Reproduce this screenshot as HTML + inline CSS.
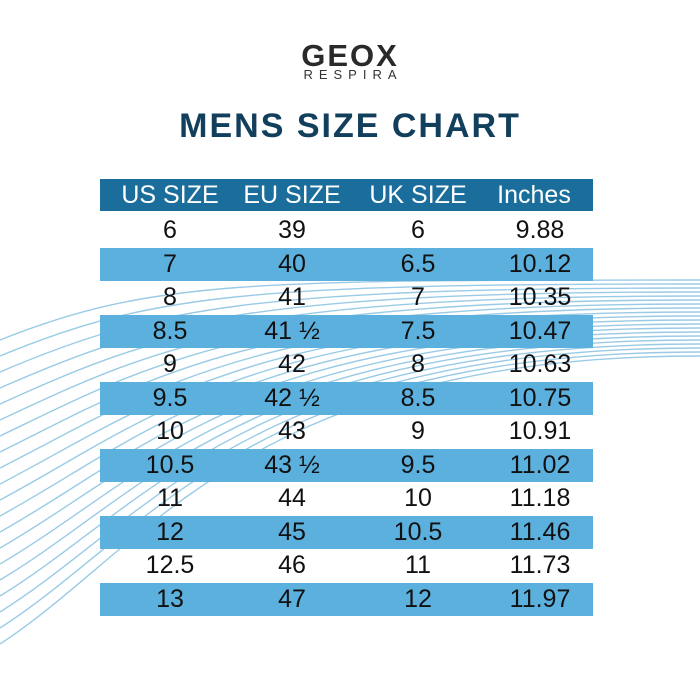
<!DOCTYPE html>
<html><head><style>
body{margin:0;width:700px;height:700px;background:#fff;position:relative;overflow:hidden;font-family:"Liberation Sans",sans-serif}
.abs{position:absolute}
.row{position:absolute;left:100px;width:493px;height:33px;display:flex;align-items:center;font-size:25px;color:#111}
.row span{position:absolute;transform:translateX(-50%);white-space:nowrap}
.b{background:#5cb0de}
.h{background:#1b6e9c;color:#fff;height:32px}
</style></head><body>
<svg class="abs" style="left:0;top:0" width="700" height="700">
<g fill="none" stroke="#9acbe6" stroke-width="1.4">
<path d="M0 340 C150 280 250 280 700 280"/>
<path d="M0 356 C150 294 250 284 700 284"/>
<path d="M0 372 C150 308 250 288 700 288"/>
<path d="M0 388 C150 322 250 292 700 292"/>
<path d="M0 404 C150 336 250 296 700 296"/>
<path d="M0 420 C150 350 250 300 700 300"/>
<path d="M0 436 C150 364 250 304 700 304"/>
<path d="M0 452 C150 378 250 308 700 308"/>
<path d="M0 468 C150 392 250 312 700 312"/>
<path d="M0 484 C150 406 250 316 700 316"/>
<path d="M0 500 C150 420 250 320 700 320"/>
<path d="M0 516 C150 434 250 324 700 324"/>
<path d="M0 532 C150 448 250 328 700 328"/>
<path d="M0 548 C150 462 250 332 700 332"/>
<path d="M0 564 C150 476 250 336 700 336"/>
<path d="M0 580 C150 490 250 340 700 340"/>
<path d="M0 596 C150 504 250 344 700 344"/>
<path d="M0 612 C150 518 250 348 700 348"/>
<path d="M0 628 C150 532 250 352 700 352"/>
<path d="M0 644 C150 546 250 356 700 356"/>
</g></svg>
<div class="abs" style="left:0;width:700px;top:38px;text-align:center;font-size:31px;font-weight:bold;color:#2a2a2a;letter-spacing:2px">GEOX</div>
<div class="abs" style="left:0;width:700px;top:67px;text-align:center;font-size:13px;color:#333;letter-spacing:6px;padding-left:6px;box-sizing:border-box">RESPIRA</div>
<div class="abs" style="left:0;width:700px;top:107px;text-align:center;font-size:34px;font-weight:bold;color:#113f5c;letter-spacing:2px">MENS SIZE CHART</div>
<div class="row h" style="top:179px"><span style="left:70px">US SIZE</span><span style="left:192px">EU SIZE</span><span style="left:318px">UK SIZE</span><span style="left:434px">Inches</span></div>
<div class="row" style="top:214px"><span style="left:70px">6</span><span style="left:192px">39</span><span style="left:318px">6</span><span style="left:440px">9.88</span></div>
<div class="row b" style="top:248px"><span style="left:70px">7</span><span style="left:192px">40</span><span style="left:318px">6.5</span><span style="left:440px">10.12</span></div>
<div class="row" style="top:281px"><span style="left:70px">8</span><span style="left:192px">41</span><span style="left:318px">7</span><span style="left:440px">10.35</span></div>
<div class="row b" style="top:315px"><span style="left:70px">8.5</span><span style="left:192px">41 ½</span><span style="left:318px">7.5</span><span style="left:440px">10.47</span></div>
<div class="row" style="top:348px"><span style="left:70px">9</span><span style="left:192px">42</span><span style="left:318px">8</span><span style="left:440px">10.63</span></div>
<div class="row b" style="top:382px"><span style="left:70px">9.5</span><span style="left:192px">42 ½</span><span style="left:318px">8.5</span><span style="left:440px">10.75</span></div>
<div class="row" style="top:415px"><span style="left:70px">10</span><span style="left:192px">43</span><span style="left:318px">9</span><span style="left:440px">10.91</span></div>
<div class="row b" style="top:449px"><span style="left:70px">10.5</span><span style="left:192px">43 ½</span><span style="left:318px">9.5</span><span style="left:440px">11.02</span></div>
<div class="row" style="top:482px"><span style="left:70px">11</span><span style="left:192px">44</span><span style="left:318px">10</span><span style="left:440px">11.18</span></div>
<div class="row b" style="top:516px"><span style="left:70px">12</span><span style="left:192px">45</span><span style="left:318px">10.5</span><span style="left:440px">11.46</span></div>
<div class="row" style="top:549px"><span style="left:70px">12.5</span><span style="left:192px">46</span><span style="left:318px">11</span><span style="left:440px">11.73</span></div>
<div class="row b" style="top:583px"><span style="left:70px">13</span><span style="left:192px">47</span><span style="left:318px">12</span><span style="left:440px">11.97</span></div>
</body></html>
